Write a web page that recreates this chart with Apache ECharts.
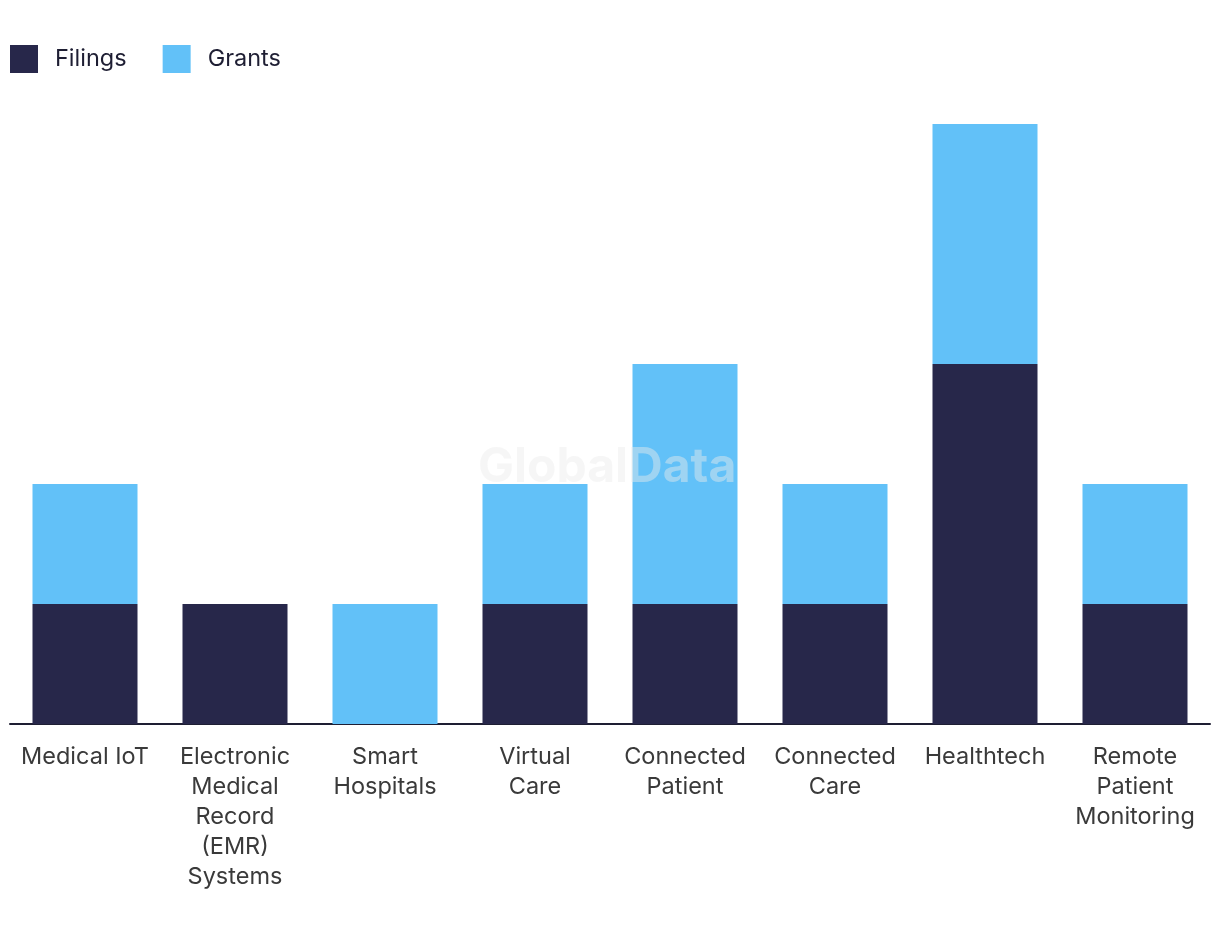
<!DOCTYPE html>
<html>
<head>
<meta charset="utf-8">
<script src="https://cdn.jsdelivr.net/npm/echarts@6/dist/echarts.min.js"></script>
<style>html,body{margin:0;padding:0;background:#fff;}#c{width:1220px;height:940px;}</style>
</head>
<body>
<div id="c"></div>
<script>
const categories = ["Medical IoT", "Electronic\nMedical\nRecord\n(EMR)\nSystems", "Smart\nHospitals", "Virtual\nCare", "Connected\nPatient", "Connected\nCare", "Healthtech", "Remote\nPatient\nMonitoring"];
const filings = [1, 1, 0, 1, 1, 1, 3, 1];
const grants = [1, 0, 1, 1, 2, 1, 2, 1];

const chart = echarts.init(document.getElementById('c'));
const font = '"Inter", "Liberation Sans", sans-serif';
chart.setOption({
  animation: false,
  textStyle: { fontFamily: font },
  legend: {
    left: 5, top: 40,
    itemWidth: 28, itemHeight: 28, itemGap: 36,
    icon: 'rect',
    textStyle: { fontSize: 23.5, color: '#1e1e33', fontFamily: font, padding: [0, 0, 0, 12] },
    data: ['Filings', 'Grants']
  },
  grid: { left: 10, right: 10, top: 124, bottom: 216, containLabel: false },
  xAxis: {
    type: 'category',
    data: categories,
    axisLine: { lineStyle: { color: '#1e1e33', width: 2 } },
    axisTick: { show: false },
    axisLabel: { fontSize: 23.5, color: '#3a3a3a', lineHeight: 30, margin: 18, interval: 0, fontFamily: font }
  },
  yAxis: {
    type: 'value', min: 0, max: 5, interval: 1,
    show: false,
    splitLine: { show: false }
  },
  series: [
    { name: 'Filings', type: 'bar', stack: 'a', data: filings, barWidth: '70%', itemStyle: { color: '#27274a' } },
    { name: 'Grants', type: 'bar', stack: 'a', data: grants, barWidth: '70%', itemStyle: { color: '#62c1f8' } }
  ],
  graphic: [{
    type: 'text', left: 478, top: 444, z: 100,
    style: { text: 'GlobalData', font: 'bold 48px ' + font, fill: 'rgba(235,235,235,0.45)' }
  }]
});
</script>
</body>
</html>
